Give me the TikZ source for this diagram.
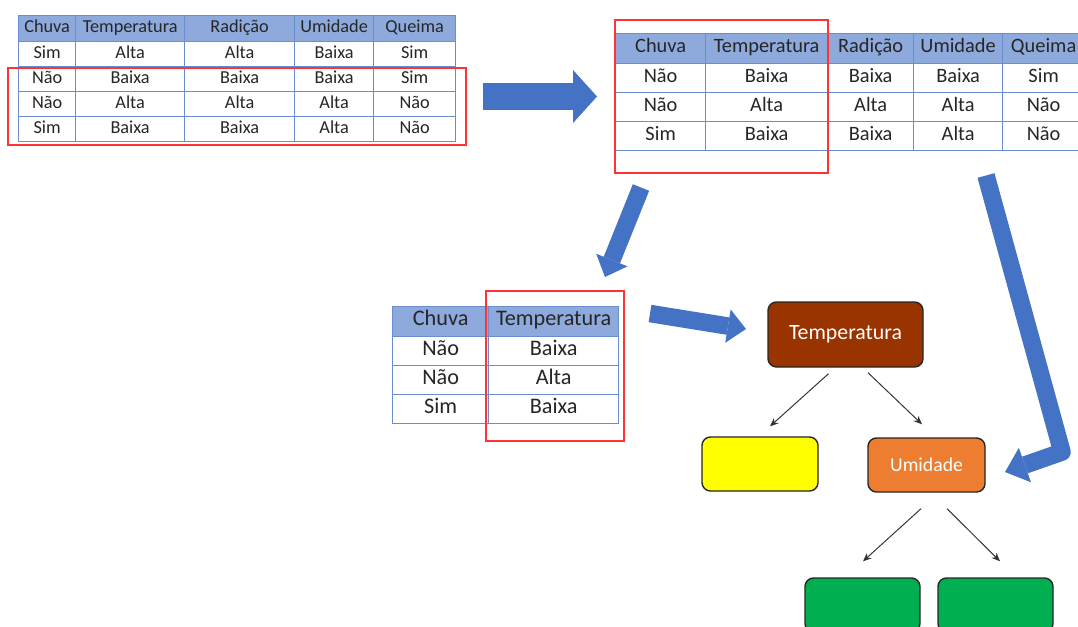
\documentclass[tikz,border=0pt]{standalone}
\usepackage{fontspec}
\setmainfont{Carlito}
\usepackage{tikz}
\usetikzlibrary{positioning,calc,matrix,arrows.meta}

\definecolor{hdrblue}{HTML}{8EA9DB}
\definecolor{gridblue}{HTML}{4472C4}
\definecolor{flowblue}{HTML}{4472C4}
\definecolor{selred}{HTML}{FF3333}
\definecolor{rootbrown}{HTML}{993300}
\definecolor{umidorange}{HTML}{ED7D31}
\definecolor{leafgreen}{HTML}{00B050}
\definecolor{leafyellow}{HTML}{FFFF00}

\def\px{0.025cm}

\begin{document}
\begin{tikzpicture}
  [
    x=0.025cm, y=-0.025cm,
    cell/.style    = {draw=gridblue!80, line width=.9pt, fill=white,
                      inner sep=0pt, outer sep=0pt, text=black!85,
                      text height=.76em, text depth=.14em},
    hdr/.style     = {fill=hdrblue},
    datatab/.style = {matrix of nodes, inner sep=0pt, outer sep=0pt,
                      column sep=-.9pt, row sep=-.9pt,
                      anchor=north west, nodes={cell}},
    selbox/.style  = {draw=selred, line width=1pt},
    flow/.style    = {draw=flowblue, line width=12.5pt, line join=round,
                      -{Triangle[length=13pt, width=24pt, line width=0pt]}},
    tnode/.style   = {draw=black!85, line width=1pt, rounded corners=6pt,
                      text=white, minimum width=116*\px, minimum height=54*\px},
    split/.style   = {-{Stealth[length=6pt, width=5pt]}, line width=.7pt,
                      draw=black!80},
  ]

  % page frame
  \useasboundingbox (0,0) rectangle (1078,626);
  \clip (0,0) rectangle (1078,626);

  % full data table
  \matrix (dataA) at (18,15)
    [datatab,
     nodes={minimum height=25*\px, font=\fontsize{13}{15}\selectfont},
     row 1/.style={nodes={hdr, minimum height=26*\px}},
     column 1/.style={nodes={minimum width=57*\px}},
     column 2/.style={nodes={minimum width=109*\px}},
     column 3/.style={nodes={minimum width=110*\px}},
     column 4/.style={nodes={minimum width=79*\px}},
     column 5/.style={nodes={minimum width=82*\px}}]
  {
    Chuva & Temperatura & Radição & Umidade & Queima \\
    Sim   & Alta        & Alta    & Baixa   & Sim    \\
    Não   & Baixa       & Baixa   & Baixa   & Sim    \\
    Não   & Alta        & Alta    & Alta    & Não    \\
    Sim   & Baixa       & Baixa   & Alta    & Não    \\
  };
  \draw[selbox] (8,68) rectangle (466,145);

  % selected rows
  \matrix (dataB) at (615,33)
    [datatab,
     nodes={minimum height=29*\px, font=\fontsize{14.5}{17}\selectfont},
     row 1/.style={nodes={hdr, minimum height=30*\px}},
     column 1/.style={nodes={minimum width=90*\px}},
     column 2/.style={nodes={minimum width=122*\px}},
     column 3/.style={nodes={minimum width=86*\px}},
     column 4/.style={nodes={minimum width=89*\px}},
     column 5/.style={nodes={minimum width=82*\px}}]
  {
    Chuva & Temperatura & Radição & Umidade & Queima \\
    Não   & Baixa       & Baixa   & Baixa   & Sim    \\
    Não   & Alta        & Alta    & Alta    & Não    \\
    Sim   & Baixa       & Baixa   & Alta    & Não    \\
  };
  \draw[selbox] (615,20) rectangle (828,173);

  % two columns left
  \matrix (dataC) at (392,306)
    [datatab,
     nodes={minimum height=29*\px, font=\fontsize{15.8}{18}\selectfont},
     row 1/.style={nodes={hdr, minimum height=30*\px}},
     column 1/.style={nodes={minimum width=96*\px}},
     column 2/.style={nodes={minimum width=130*\px}}]
  {
    Chuva & Temperatura \\
    Não   & Baixa       \\
    Não   & Alta        \\
    Sim   & Baixa       \\
  };
  \draw[selbox] (486,291) rectangle (624,441);

  % decision tree
  \node (root) at (845.5,334.5)
    [tnode, fill=rootbrown, minimum width=155*\px, minimum height=65*\px,
     font=\fontsize{15.5}{18}\selectfont] {Temperatura};
  \node (leafL) at (760,464) [tnode, fill=leafyellow] {};
  \node (umid) at (926.5,465)
    [tnode, fill=umidorange, minimum width=117*\px,
     font=\fontsize{14}{16}\selectfont] {Umidade};
  \node (leafA) at (862.5,605) [tnode, fill=leafgreen, minimum width=115*\px] {};
  \node (leafB) at (995.5,605) [tnode, fill=leafgreen, minimum width=115*\px] {};

  % tree branches, with a gap at both ends
  \draw[split] ($(root.south)+(-17,6)$)   -- ($(leafL.north)+(10,-10)$);
  \draw[split] ($(root.south)+(22.5,5)$)  -- ($(umid.north)+(-4.5,-13)$);
  \draw[split] ($(umid.south)+(-5.5,16)$) -- ($(leafA.north)+(0.5,-16)$);
  \draw[split] ($(umid.south)+(20.5,16)$) -- ($(leafB.north)+(4.5,-16)$);

  % big flow arrows
  \coordinate (f1s) at (483,96.5);
  \coordinate (f1e) at (597,96.5);
  \coordinate (f2s) at (641,187.5);
  \coordinate (f2e) at (605,277);
  \coordinate (f3s) at (650,313.5);
  \coordinate (f3e) at (746,329);
  \coordinate (f4s) at (986,175.5);
  \coordinate (f4m) at (1062,452);
  \coordinate (f4e) at (1005,472);

  \draw[flow, line width=19pt,
        -{Triangle[length=17pt, width=37.6pt, line width=0pt]}] (f1s) -- (f1e);
  \draw[flow] (f2s) -- (f2e);
  \draw[flow] (f3s) -- (f3e);
  \draw[flow, -{Triangle[length=15pt, width=26pt, line width=0pt]}]
    (f4s) -- (f4m) -- (f4e);
\end{tikzpicture}
\end{document}
